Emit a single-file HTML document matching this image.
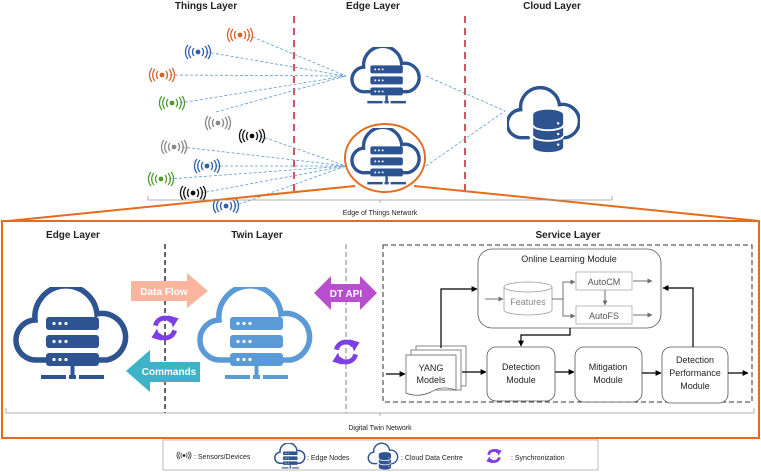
<!DOCTYPE html>
<html><head><meta charset="utf-8"><style>
html,body{margin:0;padding:0;background:#fff;}
svg{display:block;font-family:"Liberation Sans",sans-serif;}
</style></head><body>
<svg width="761" height="472" viewBox="0 0 761 472" xmlns="http://www.w3.org/2000/svg">
<defs>
<symbol id="node" viewBox="0 0 117 93">
  <path d="M34,73 H24 A20,20 0 0 1 22,33 A31,31 0 0 1 84,27 A23,23 0 0 1 94,73 H84" fill="none" stroke="currentColor" stroke-width="5.5" stroke-linecap="round"/>
  <rect x="33" y="30" width="53" height="13" rx="3" fill="currentColor"/>
  <rect x="33" y="48" width="53" height="13" rx="3" fill="currentColor"/>
  <rect x="33" y="66" width="53" height="13" rx="3" fill="currentColor"/>
  <g fill="#fff"><circle cx="41" cy="36.5" r="1.6"/><circle cx="47" cy="36.5" r="1.6"/><circle cx="53" cy="36.5" r="1.6"/>
  <circle cx="41" cy="54.5" r="1.6"/><circle cx="47" cy="54.5" r="1.6"/><circle cx="53" cy="54.5" r="1.6"/>
  <circle cx="41" cy="72.5" r="1.6"/><circle cx="47" cy="72.5" r="1.6"/><circle cx="53" cy="72.5" r="1.6"/></g>
  <rect x="57.5" y="79" width="4" height="9" fill="currentColor"/>
  <rect x="28" y="88" width="25" height="4" fill="currentColor"/>
  <rect x="56" y="88" width="7" height="4" fill="currentColor"/>
  <rect x="66" y="88" width="25" height="4" fill="currentColor"/>
</symbol>
<symbol id="db" viewBox="0 0 117 110">
  <path d="M34,85 H24 A20,20 0 0 1 22,40 A31,31 0 0 1 84,32 A23,23 0 0 1 94,85 H90" fill="none" stroke="#2e5391" stroke-width="5.5" stroke-linecap="round"/>
  <path d="M42,48 A24,8 0 0 1 90,48 V100 A24,8 0 0 1 42,100 Z" fill="#2e5391"/>
  <path d="M42,65 A24,8 0 0 0 90,65 M42,82 A24,8 0 0 0 90,82" fill="none" stroke="#fff" stroke-width="3"/>
  <circle cx="82" cy="62" r="2" fill="#fff"/><circle cx="82" cy="79" r="2" fill="#fff"/><circle cx="82" cy="96" r="2" fill="#fff"/>
</symbol>
<symbol id="sensor" viewBox="-14 -8 28 16">
  <circle cx="0" cy="0" r="2.4" fill="currentColor"/>
  <g fill="none" stroke="currentColor" stroke-width="1.3">
  <path d="M-4,-4 A6,6 0 0 0 -4,4 M4,-4 A6,6 0 0 1 4,4"/>
  <path d="M-7,-6 A9,9 0 0 0 -7,6 M7,-6 A9,9 0 0 1 7,6"/>
  <path d="M-10,-7 A11,11 0 0 0 -10,7 M10,-7 A11,11 0 0 1 10,7"/>
  </g>
</symbol>
<symbol id="sync" viewBox="-20 -20 40 40">
  <g fill="none" stroke="#7b3fe4" stroke-width="6">
    <path d="M-12,-3 A12,12 0 0 1 9,-8"/>
    <path d="M12,3 A12,12 0 0 1 -9,8"/>
  </g>
  <path d="M4,-16 L17,-12 L10,-1 Z" fill="#7b3fe4"/>
  <path d="M-4,16 L-17,12 L-10,1 Z" fill="#7b3fe4"/>
</symbol>
<marker id="ah" viewBox="0 0 10 10" refX="9" refY="5" markerWidth="5" markerHeight="5" orient="auto"><path d="M0,0 L10,5 L0,10 Z" fill="#000"/></marker>
<marker id="ahg" viewBox="0 0 10 10" refX="9" refY="5" markerWidth="5" markerHeight="5" orient="auto"><path d="M0,0 L10,5 L0,10 Z" fill="#707070"/></marker>
</defs>

<!-- top labels -->
<g font-size="10" font-weight="bold" fill="#222" text-anchor="middle">
<text x="206" y="9">Things Layer</text>
<text x="373" y="9">Edge Layer</text>
<text x="552" y="9">Cloud Layer</text>
</g>
<line x1="294" y1="16" x2="294" y2="192" stroke="#d9515c" stroke-width="2" stroke-dasharray="7,5"/>
<line x1="465" y1="16" x2="465" y2="192" stroke="#d9515c" stroke-width="2" stroke-dasharray="7,5"/>

<!-- dashed links -->
<g stroke="#5b9bd5" stroke-width="0.8" stroke-dasharray="3,2" fill="none">
<line x1="248" y1="35" x2="346" y2="76"/>
<line x1="206" y1="52" x2="346" y2="76"/>
<line x1="170" y1="75" x2="346" y2="76"/>
<line x1="180" y1="103" x2="346" y2="76"/>
<line x1="216" y1="112" x2="346" y2="76"/>
<line x1="260" y1="136" x2="346" y2="166"/>
<line x1="182" y1="147" x2="346" y2="166"/>
<line x1="215" y1="166" x2="346" y2="166"/>
<line x1="169" y1="179" x2="346" y2="166"/>
<line x1="201" y1="193" x2="346" y2="166"/>
<line x1="234" y1="206" x2="346" y2="166"/>
<line x1="426" y1="76" x2="505" y2="111"/>
<line x1="426" y1="166" x2="505" y2="111"/>
</g>
<use href="#sensor" x="226" y="27" width="28" height="16" color="#d4622a"/>
<use href="#sensor" x="184" y="44" width="28" height="16" color="#2e5fa8"/>
<use href="#sensor" x="148" y="67" width="28" height="16" color="#d4622a"/>
<use href="#sensor" x="158" y="95" width="28" height="16" color="#4e9a2b"/>
<use href="#sensor" x="204" y="115" width="28" height="16" color="#888"/>
<use href="#sensor" x="238" y="128" width="28" height="16" color="#111"/>
<use href="#sensor" x="160" y="139" width="28" height="16" color="#888"/>
<use href="#sensor" x="193" y="158" width="28" height="16" color="#2e5fa8"/>
<use href="#sensor" x="147" y="171" width="28" height="16" color="#4e9a2b"/>
<use href="#sensor" x="179" y="185" width="28" height="16" color="#111"/>
<use href="#sensor" x="212" y="198" width="28" height="16" color="#2e5fa8"/>

<use href="#node" x="350" y="47" width="72" height="57" color="#2e5391"/>
<use href="#node" x="350" y="128" width="72" height="57" color="#2e5391"/>
<use href="#db" x="507" y="84" width="73" height="70"/>
<ellipse cx="385" cy="158" rx="40" ry="34" fill="none" stroke="#e46c1e" stroke-width="2"/>
<line x1="355" y1="186" x2="8" y2="221" stroke="#e46c1e" stroke-width="2"/>
<line x1="414" y1="186" x2="759" y2="221" stroke="#e46c1e" stroke-width="2"/>

<path d="M148,196 V200 H612 V196 M380,200 V203" fill="none" stroke="#999" stroke-width="0.8"/>
<text x="380" y="215" font-size="7" text-anchor="middle" fill="#222">Edge of Things Network</text>

<!-- big box -->
<rect x="2" y="221" width="757" height="217" fill="none" stroke="#e46c1e" stroke-width="2"/>
<g font-size="10" font-weight="bold" fill="#222" text-anchor="middle">
<text x="73" y="238">Edge Layer</text>
<text x="257" y="238">Twin Layer</text>
<text x="568" y="238">Service Layer</text>
</g>
<line x1="165" y1="244" x2="165" y2="413" stroke="#333" stroke-width="1.5" stroke-dasharray="5,3"/>
<line x1="346" y1="244" x2="346" y2="413" stroke="#aaa" stroke-width="1.5" stroke-dasharray="5,3"/>

<use href="#node" x="13" y="287" width="117" height="93" color="#2e5391"/>
<use href="#node" x="197" y="287" width="117" height="93" color="#5b9bd5"/>

<path d="M131,281 H187 V273 L208,291 L187,308 V301 H131 Z" fill="#fbb49d"/>
<text x="164" y="295" font-size="10" font-weight="bold" fill="#fff" text-anchor="middle">Data Flow</text>
<path d="M200,362 H150 V350 L126,371 L150,392 V382 H200 Z" fill="#3eb3c8"/>
<text x="169" y="375" font-size="10" font-weight="bold" fill="#fff" text-anchor="middle">Commands</text>
<path d="M314,293 L331,276 V284 H360 V276 L377,293 L360,310 V302 H331 V310 Z" fill="#b84fce"/>
<text x="346" y="297" font-size="10" font-weight="bold" fill="#fff" text-anchor="middle">DT API</text>
<use href="#sync" x="149" y="312" width="32" height="32"/>
<use href="#sync" x="330" y="336" width="32" height="32"/>

<!-- service layer -->
<rect x="383" y="245" width="369" height="157" fill="none" stroke="#333" stroke-width="1" stroke-dasharray="5,3"/>
<rect x="478" y="249" width="183" height="79" rx="14" fill="#fff" stroke="#555" stroke-width="0.8"/>
<text x="569" y="262" font-size="9" text-anchor="middle" fill="#222">Online Learning Module</text>
<path d="M504,287 V310 A24,5 0 0 0 552,310 V287" fill="#fff" stroke="#999" stroke-width="0.8"/>
<ellipse cx="528" cy="287" rx="24" ry="5" fill="#fff" stroke="#999" stroke-width="0.8"/>
<text x="528" y="305" font-size="9" text-anchor="middle" fill="#888">Features</text>
<line x1="485" y1="299" x2="503" y2="299" stroke="#707070" stroke-width="1" marker-end="url(#ahg)"/>
<path d="M552,299 H563 V282 H575 M563,299 V316 H575" fill="none" stroke="#707070" stroke-width="1" marker-end="url(#ahg)"/>
<path d="M563,282 H575" stroke="#707070" stroke-width="1" marker-end="url(#ahg)"/>
<rect x="576" y="272" width="56" height="18" fill="#fff" stroke="#aaa" stroke-width="0.8"/>
<text x="604" y="285" font-size="9" text-anchor="middle" fill="#555">AutoCM</text>
<rect x="576" y="306" width="56" height="18" fill="#fff" stroke="#aaa" stroke-width="0.8"/>
<text x="604" y="319" font-size="9" text-anchor="middle" fill="#555">AutoFS</text>
<line x1="605" y1="290" x2="605" y2="305" stroke="#707070" stroke-width="1" marker-end="url(#ahg)"/>
<line x1="633" y1="281" x2="652" y2="281" stroke="#707070" stroke-width="1" marker-end="url(#ahg)"/>
<line x1="633" y1="315" x2="652" y2="315" stroke="#707070" stroke-width="1" marker-end="url(#ahg)"/>

<!-- yang models stack -->
<g fill="#fff" stroke="#555" stroke-width="0.7">
<rect x="416" y="346" width="50" height="40"/>
<rect x="411" y="350" width="50" height="40"/>
<path d="M406,355 H456 V390 Q441,385 431,392 Q418,398 406,393 Z"/>
</g>
<text x="431" y="371" font-size="9" text-anchor="middle" fill="#222">YANG</text>
<text x="431" y="383" font-size="9" text-anchor="middle" fill="#222">Models</text>

<g fill="#fff" stroke="#555" stroke-width="0.8">
<rect x="487" y="347" width="68" height="54" rx="9"/>
<rect x="575" y="347" width="67" height="55" rx="9"/>
<rect x="662" y="347" width="66" height="56" rx="9"/>
</g>
<g font-size="9" text-anchor="middle" fill="#222">
<text x="521" y="370">Detection</text><text x="521" y="383">Module</text>
<text x="608" y="370">Mitigation</text><text x="608" y="383">Module</text>
<text x="695" y="363">Detection</text><text x="695" y="376">Performance</text><text x="695" y="389">Module</text>
</g>
<g stroke="#000" stroke-width="1.2" fill="none">
<line x1="386" y1="374" x2="405" y2="374" marker-end="url(#ah)"/>
<line x1="462" y1="372" x2="486" y2="372" marker-end="url(#ah)"/>
<line x1="555" y1="372" x2="574" y2="372" marker-end="url(#ah)"/>
<line x1="642" y1="373" x2="661" y2="373" marker-end="url(#ah)"/>
<line x1="728" y1="373" x2="748" y2="373" marker-end="url(#ah)"/>
<path d="M441,348 V289 H477" marker-end="url(#ah)"/>
<path d="M693,347 V288 H663" marker-end="url(#ah)"/>
<path d="M570,328 V335 H521 V346" marker-end="url(#ah)"/>
</g>

<path d="M6,408 V413 H754 V408 M380,413 V416" fill="none" stroke="#999" stroke-width="0.8"/>
<text x="380" y="430" font-size="7" text-anchor="middle" fill="#222">Digital Twin Network</text>

<!-- legend -->
<rect x="163" y="440" width="435" height="30" fill="#fff" stroke="#aaa" stroke-width="0.8"/>
<use href="#sensor" x="176" y="451" width="16" height="9" color="#222"/>
<text x="194" y="459" font-size="7" fill="#222">: Sensors/Devices</text>
<use href="#node" x="274" y="443" width="32" height="26" color="#2e5391"/>
<text x="307" y="460" font-size="7" fill="#222">: Edge Nodes</text>
<use href="#db" x="367" y="442" width="32" height="28"/>
<text x="401" y="460" font-size="7" fill="#222">: Cloud Data Centre</text>
<use href="#sync" x="485" y="447" width="18" height="18"/>
<text x="511" y="460" font-size="7" fill="#222">: Synchronization</text>
</svg>
</body></html>
